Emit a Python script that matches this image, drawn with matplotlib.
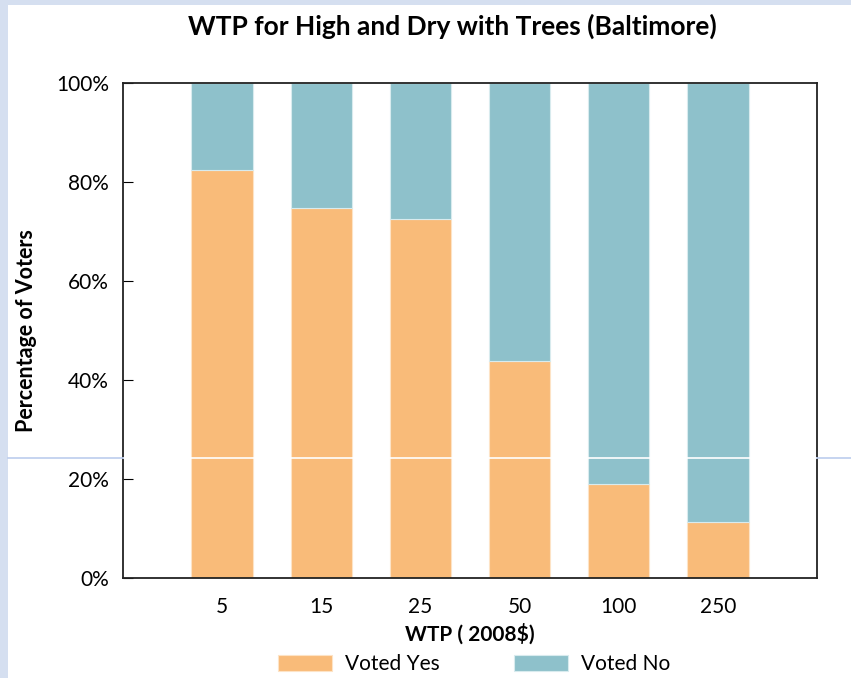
import matplotlib.pyplot as plt
from matplotlib.patches import Rectangle
from matplotlib.lines import Line2D

# WTP bid levels and share of voters
bids = ["5", "15", "25", "50", "100", "250"]
yes_pct = [82.4, 74.7, 72.5, 43.8, 19.0, 11.3]
no_pct = [100 - v for v in yes_pct]

W, H = 851, 678
fig = plt.figure(figsize=(W / 100, H / 100), dpi=100)
fig.patch.set_facecolor("#d5dff0")
plt.rcParams["font.family"] = ["Lato", "DejaVu Sans"]

# white card of the slide
fig.patches.append(Rectangle((8 / W, 0), 1, 1 - 5 / H, transform=fig.transFigure,
                             facecolor="white", edgecolor="none", zorder=-10))

ax = fig.add_axes([123 / W, 1 - 578 / H, (817 - 123) / W, (578 - 83) / H])
x = list(range(len(bids)))
ax.bar(x, yes_pct, width=0.62, color="#f9bb79", edgecolor="#fde3c6", linewidth=0.8,
       label="Voted Yes", zorder=2)
ax.bar(x, no_pct, width=0.62, bottom=yes_pct, color="#8ec1cb", edgecolor="#d8ebee",
       linewidth=0.8, label="Voted No", zorder=2)

# stray slide guide line
guide_y = (578 - 458) / 495 * 100
ax.axhline(guide_y, color="white", linewidth=1.2, zorder=3)
for x0, x1 in [(8, 123), (817, 851)]:
    fig.lines.append(Line2D([x0 / W, x1 / W], [1 - 458 / H, 1 - 458 / H],
                            transform=fig.transFigure, color="#bccdee", linewidth=1.2))

ax.set_xlim(-1, 6)
ax.set_ylim(0, 100)
ax.set_xticks(x)
ax.set_xticklabels(bids)
ax.set_yticks(range(0, 101, 20))
ax.set_yticklabels([f"{v}%" for v in range(0, 101, 20)])
ax.tick_params(axis="x", length=0, labelsize=15, pad=14)
ax.tick_params(axis="y", direction="in", length=7, labelsize=15, pad=10)
for s in ax.spines.values():
    s.set_color("#222222")
    s.set_linewidth(1.3)

ax.set_xlabel("WTP ( 2008$)", fontsize=15, fontweight="bold", labelpad=4)
ax.set_ylabel("Percentage of Voters", fontsize=15.5, fontweight="bold", labelpad=14)
fig.text(0.531, 1 - 26 / H, "WTP for High and Dry with Trees (Baltimore)",
         ha="center", va="center", fontsize=19, fontweight="bold")

fig.legend(loc="center", bbox_to_anchor=(474 / W, 1 - 664 / H), ncol=2, frameon=False,
           fontsize=15, handlelength=2.6, handleheight=0.8, columnspacing=3.6,
           handletextpad=0.6)

fig.savefig("out.png", dpi=100, facecolor=fig.get_facecolor())
